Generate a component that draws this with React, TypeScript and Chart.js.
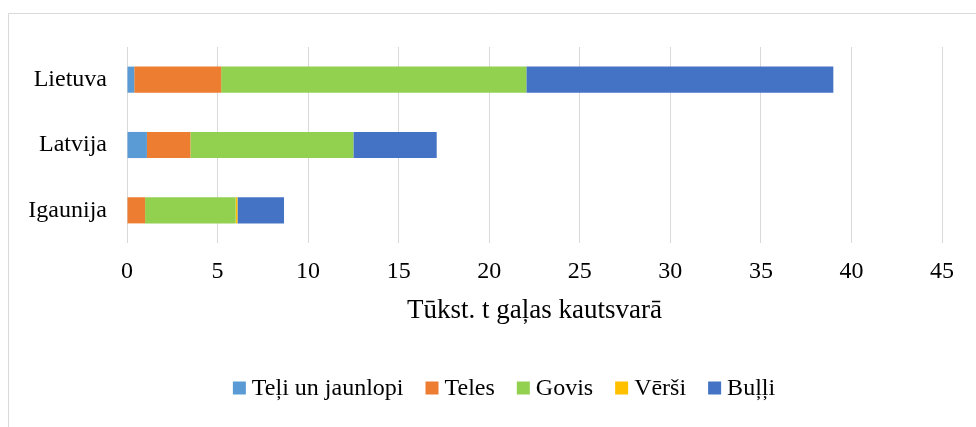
import React, { useEffect, useRef } from "react";
import { Chart, registerables } from "chart.js";

Chart.register(...registerables);

const categories = ["Lietuva", "Latvija", "Igaunija"];
const seriesNames = ["Teļi un jaunlopi", "Teles", "Govis", "Vērši", "Buļļi"];
const teli = [0.4, 1.1, 0];
const teles = [4.8, 2.4, 1.0];
const govis = [16.85, 9.0, 5.0];
const versi = [0, 0, 0.1];
const bulli = [16.95, 4.6, 2.57];
const seriesColors = ["#5B9BD5", "#ED7D31", "#92D050", "#FFC000", "#4472C4"];
const xTicks = [0, 5, 10, 15, 20, 25, 30, 35, 40, 45];
const xTitle = "Tūkst. t gaļas kautsvarā";

const FONT = "'Liberation Serif', 'Times New Roman', serif";

const frame = {
  id: "frame",
  beforeDraw(chart: any) {
    const ctx = chart.ctx;
    ctx.save();
    ctx.fillStyle = "#ffffff";
    ctx.fillRect(0, 0, chart.width, chart.height);
    ctx.strokeStyle = "#d9d9d9";
    ctx.lineWidth = 1;
    ctx.beginPath();
    ctx.moveTo(8.5, chart.height + 5);
    ctx.lineTo(8.5, 13.5);
    ctx.lineTo(chart.width + 5, 13.5);
    ctx.stroke();
    ctx.restore();
  },
};

const customLegend = {
  id: "customLegend",
  afterDraw(chart: any) {
    const ctx = chart.ctx;
    const box = 13;
    const gapText = 6;
    const gapItem = 22;
    ctx.save();
    ctx.font = `24px ${FONT}`;
    ctx.textBaseline = "middle";
    ctx.textAlign = "left";
    const items = chart.data.datasets.map((d: any) => ({
      label: d.label,
      color: d.backgroundColor,
      w: ctx.measureText(d.label).width,
    }));
    const total =
      items.reduce((s: number, it: any) => s + box + gapText + it.w, 0) +
      gapItem * (items.length - 1);
    let x = chart.width / 2 + 16 - total / 2;
    const cy = 388;
    items.forEach((it: any) => {
      ctx.fillStyle = it.color;
      ctx.fillRect(x, cy - box / 2, box, box);
      ctx.fillStyle = "#000";
      ctx.fillText(it.label, x + box + gapText, cy + 1);
      x += box + gapText + it.w + gapItem;
    });
    ctx.restore();
  },
};

export default function App() {
  const ref = useRef<HTMLCanvasElement>(null);
  useEffect(() => {
    document.body.style.margin = "0";
    const values = [teli, teles, govis, versi, bulli];
    const chart = new Chart(ref.current!, {
      type: "bar",
      data: {
        labels: categories,
        datasets: seriesNames.map((n, i) => ({
          label: n,
          data: values[i],
          backgroundColor: seriesColors[i],
          borderWidth: 0,
          barPercentage: 0.4,
          categoryPercentage: 1,
        })),
      },
      options: {
        indexAxis: "y",
        animation: false,
        responsive: false,
        layout: { padding: { top: 47, right: 34, bottom: 71, left: 0 } },
        plugins: {
          tooltip: { enabled: false },
          legend: { display: false },
        },
        scales: {
          x: {
            stacked: true,
            min: 0,
            max: 45,
            afterBuildTicks: (s: any) => {
              s.ticks = xTicks.map((v) => ({ value: v }));
            },
            afterFit: (s: any) => {
              s.height = 113;
            },
            grid: { color: "#d9d9d9", lineWidth: 1, drawTicks: false },
            border: { display: false },
            ticks: {
              font: { family: FONT, size: 24 },
              color: "#000",
              padding: 14,
              maxRotation: 0,
            },
            title: {
              display: true,
              text: xTitle,
              font: { family: FONT, size: 27 },
              color: "#000",
              padding: { top: 4, bottom: 29 },
            },
          },
          y: {
            stacked: true,
            afterFit: (s: any) => {
              s.width = 127;
            },
            grid: { display: false, drawTicks: false },
            border: { display: false },
            ticks: {
              font: { family: FONT, size: 24 },
              color: "#000",
              padding: 20,
            },
          },
        },
      },
      plugins: [frame, customLegend],
    });
    return () => chart.destroy();
  }, []);
  return <canvas ref={ref} width={976} height={427} style={{ display: "block" }} />;
}
